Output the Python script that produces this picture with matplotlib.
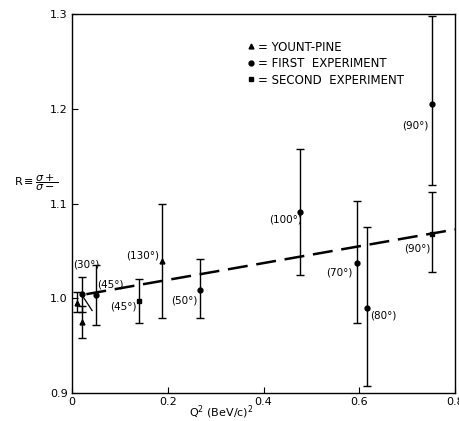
import matplotlib
matplotlib.use("Agg")
import matplotlib.pyplot as plt
from matplotlib.lines import Line2D

# ---- data ----
yp_x = [0.010, 0.020, 0.189]
yp_y = [0.995, 0.975, 1.039]
yp_lo = [0.009, 0.017, 0.060]
yp_hi = [0.012, 0.017, 0.061]

first_x = [0.020, 0.050, 0.268, 0.477, 0.596, 0.617, 0.752]
first_y = [1.004, 1.003, 1.009, 1.091, 1.037, 0.990, 1.205]
first_lo = [0.018, 0.031, 0.030, 0.066, 0.063, 0.083, 0.085]
first_hi = [0.018, 0.032, 0.032, 0.066, 0.066, 0.085, 0.093]

second_x = [0.140, 0.752]
second_y = [0.997, 1.068]
second_lo = [0.023, 0.040]
second_hi = [0.023, 0.044]

fit_x = [0.03, 0.80]
fit_y = [1.0043, 1.0726]

labels = ["(30°)", "(45°)", "(45°)", "(130°)", "(50°)", "(100°)", "(70°)", "(80°)", "(90°)", "(90°)"]
label_x = [0.0025, 0.052, 0.080, 0.114, 0.207, 0.411, 0.531, 0.623, 0.689, 0.694]
label_y = [1.036, 1.014, 0.991, 1.045, 0.998, 1.083, 1.027, 0.982, 1.182, 1.052]

xticks = [0, 0.2, 0.4, 0.6, 0.8]
xticklabels = ["0", "0.2", "0.4", "0.6", "0.8"]
yticks = [0.9, 1.0, 1.1, 1.2, 1.3]
yticklabels = ["0.9", "1.0", "1.1", "1.2", "1.3"]

plt.rcParams['font.family'] = ['DejaVu Sans']
fs = 7.5

fig = plt.figure(figsize=(4.59, 4.21), dpi=100)
ax = fig.add_axes([72/459, 1 - 393/421, 383/459, 379/421])
ax.set_xlim(0, 0.8)
ax.set_ylim(0.9, 1.3)

ekw = dict(ls='none', color='black', ecolor='black', elinewidth=1.0, capsize=3.0, capthick=1.0, ms=3.5)
ax.errorbar(yp_x, yp_y, yerr=[yp_lo, yp_hi], fmt='^', **ekw)
ax.errorbar(first_x, first_y, yerr=[first_lo, first_hi], fmt='o', **ekw)
ax.errorbar(second_x, second_y, yerr=[second_lo, second_hi], fmt='s', **ekw)

ax.plot(fit_x, fit_y, color='black', lw=1.8, dashes=(8, 3.5))

# small slanted leader near the 30 deg point
ax.plot([first_x[0], 0.042], [first_y[0], 0.987], color='black', lw=0.9)

for t, lx, ly in zip(labels, label_x, label_y):
    ax.text(lx, ly, t, fontsize=fs, ha='left', va='center')

ax.set_xticks(xticks)
ax.set_xticklabels(xticklabels)
ax.set_yticks(yticks)
ax.set_yticklabels(yticklabels)
ax.tick_params(direction='in', length=4, width=0.8, labelsize=fs + 0.5, pad=3)
for s in ax.spines.values():
    s.set_linewidth(1.0)

ax.set_xlabel(r"Q$^2$ (BeV/c)$^2$", fontsize=fs + 0.5)
ax.xaxis.set_label_coords(0.39, -0.028)
ax.text(-0.152, 0.554, r"R$\equiv\dfrac{\sigma+}{\sigma-}$", transform=ax.transAxes,
        fontsize=8, ha='left', va='center')

handles = [Line2D([], [], marker='^', ls='none', color='black', ms=3.5),
           Line2D([], [], marker='o', ls='none', color='black', ms=3.5),
           Line2D([], [], marker='s', ls='none', color='black', ms=3.5)]
ax.legend(handles, ["= YOUNT-PINE", "= FIRST  EXPERIMENT", "= SECOND  EXPERIMENT"],
          loc='upper left', bbox_to_anchor=(0.458, 0.93), frameon=False, fontsize=fs + 1,
          handlelength=0.6, handletextpad=0.3, labelspacing=0.3, borderpad=0, borderaxespad=0)

fig.savefig("out.png", dpi=100, facecolor='white')
